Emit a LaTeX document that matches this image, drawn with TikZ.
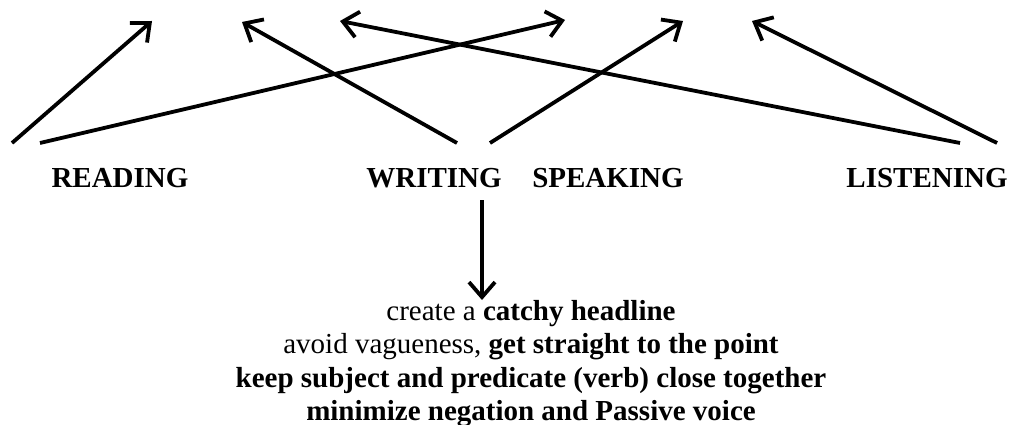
\documentclass[tikz,border=0pt]{standalone}
\usepackage{fontspec}
\setmainfont{Liberation Serif}
\usetikzlibrary{arrows.meta}
\begin{document}
\begin{tikzpicture}[x=1pt,y=-1pt,
  lbl/.style={anchor=base,inner sep=0pt,font=\fontsize{29}{33}\selectfont\bfseries},
  txt/.style={anchor=base,inner sep=0pt,font=\fontsize{29}{33}\selectfont},
  arr/.style={line width=3.8pt,-{Straight Barb[length=15pt,width=26pt]}}]
\useasboundingbox (0,0) rectangle (1011,425);
\node[lbl] (reading) at (120,187) {READING};
\node[lbl] (writing) at (434,187) {WRITING};
\node[lbl] (speaking) at (608,187) {SPEAKING};
\node[lbl] (listening) at (927,187) {LISTENING};
% tails
\coordinate (r1) at (12,143);
\coordinate (r2) at (40,143);
\coordinate (w1) at (457,143);
\coordinate (w2) at (490,143);
\coordinate (l1) at (960,143);
\coordinate (l2) at (997,143);
\coordinate (wd) at (482,200);
% tips
\coordinate (t1) at (152,21);
\coordinate (t2) at (242,22);
\coordinate (t3) at (340,21);
\coordinate (t4) at (565,20);
\coordinate (t5) at (683,21);
\coordinate (t6) at (752,21);
\coordinate (td) at (482,300);
\draw[arr] (r1) -- (t1);
\draw[arr] (r2) -- (t4);
\draw[arr] (w1) -- (t2);
\draw[arr] (w2) -- (t5);
\draw[arr] (l1) -- (t3);
\draw[arr] (l2) -- (t6);
\draw[arr] (wd) -- (td);
\node[txt] (line1) at (531,320) {create a \textbf{catchy headline}};
\node[txt] (line2) at (531,353) {avoid vagueness, \textbf{get straight to the point}};
\node[txt] (line3) at (531,387) {\textbf{keep subject and predicate (verb) close together}};
\node[txt] (line4) at (531,420) {\textbf{minimize negation and Passive voice}};
\end{tikzpicture}
\end{document}
